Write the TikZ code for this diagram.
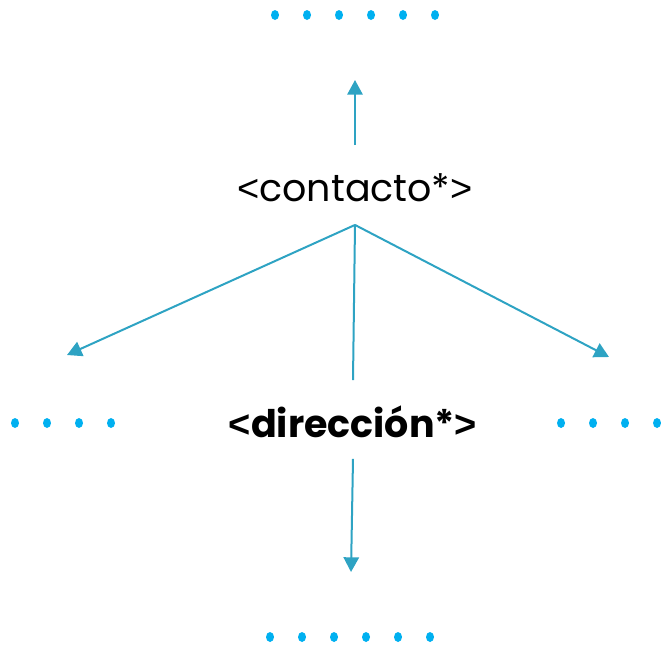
\documentclass[tikz,border=0pt]{standalone}
\usepackage{fontspec}
\setmainfont{Poppins}
\newfontfamily\signo{Liberation Sans}
\usetikzlibrary{arrows.meta}
\definecolor{flecha}{RGB}{46,163,195}
\definecolor{punto}{RGB}{0,176,240}
\newcommand{\etq}[1]{{\signo<}#1{\signo>}}
\tikzset{etiqueta/.style={font=\fontsize{28.5}{32}\selectfont, inner sep=0pt, minimum height=55pt},
         enlace/.style={draw=flecha, line width=1.5pt},
         flechita/.style={enlace, -{Triangle[length=11pt,width=11.5pt]}},
         puntito/.style={fill=punto, draw=none}}
\begin{document}
\begin{tikzpicture}[x=0.75pt,y=-0.75pt]
    \useasboundingbox (0,0) rectangle (661,647);
    \node[etiqueta] (contacto) at (355,188) {\etq{contacto*}};
    \node[etiqueta, font=\fontsize{28.5}{32}\selectfont\bfseries] (direccion) at (353,422) {\etq{dirección*}};
    \coordinate (arriba) at (355,80);
    \coordinate (izq) at (67,355);
    \coordinate (der) at (609,357);
    \coordinate (abajo) at (351,572);
    % puntos
    \foreach \k in {0,...,5} {
        \fill[puntito] (275+32*\k,15) ellipse (4 and 5);
        \fill[puntito] (270+32*\k,637) ellipse (4 and 5);
    }
    \foreach \k in {0,...,3} {
        \fill[puntito] (15+32*\k,423) ellipse (4 and 5);
        \fill[puntito] (561+32*\k,423) ellipse (4 and 5);
    }
    \draw[flechita, shorten <=4.5pt] (contacto.north) -- (arriba);
    \draw[flechita] (contacto.south) -- (izq);
    \draw[flechita] (contacto.south) -- (der);
    \draw[enlace] (contacto.south) -- ([yshift=3.75pt]direccion.north);
    \draw[flechita] (direccion.south) -- (abajo);
\end{tikzpicture}
\end{document}
